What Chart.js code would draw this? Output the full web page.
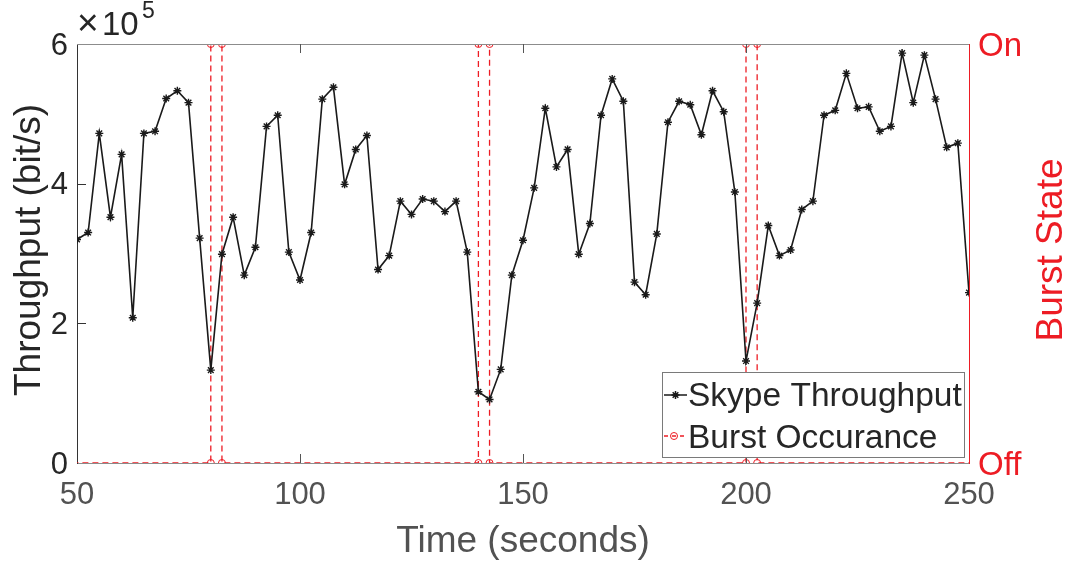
<!DOCTYPE html>
<html><head><meta charset="utf-8">
<script src="https://cdn.jsdelivr.net/npm/chart.js@4.4.1/dist/chart.umd.min.js"></script>
<style>html,body{margin:0;padding:0;background:#fff}#wrap{width:1076px;height:563px;position:relative}</style>
</head><body><div id="wrap"><canvas id="c"></canvas></div>
<script>
// ---- data ----
const times = [50,52.5,55,57.5,60,62.5,65,67.5,70,72.5,75,77.5,80,82.5,85,87.5,90,92.5,95,97.5,
  100,102.5,105,107.5,110,112.5,115,117.5,120,122.5,125,127.5,130,132.5,135,137.5,140,142.5,145,147.5,
  150,152.5,155,157.5,160,162.5,165,167.5,170,172.5,175,177.5,180,182.5,185,187.5,190,192.5,195,197.5,
  200,202.5,205,207.5,210,212.5,215,217.5,220,222.5,225,227.5,230,232.5,235,237.5,240,242.5,245,247.5,250];
const throughput = [320000,330000,472000,352000,442000,208000,472000,475000,522000,533000,516000,322000,133000,299000,352000,269000,309000,482000,498000,302000,
  262000,330000,521000,538000,399000,449000,469000,277000,297000,375000,356000,378000,375000,360000,375000,302000,102000,91000,134000,269000,
  319000,394000,508000,424000,449000,299000,343000,498000,550000,518000,259000,241000,328000,488000,518000,513000,470000,533000,503000,388000,
  146000,229000,340000,297000,305000,363000,375000,498000,505000,558000,508000,510000,475000,482000,587000,516000,584000,521000,452000,458000,244000];
const burstTimes  = [40,80,80,82.5,82.5,140,140,142.5,142.5,200,200,202.5,202.5,260];
const burstStates = [0,0,1,1,0,0,1,1,0,0,1,1,0,0];
const burstTickLabels = ['Off','On'];
const seriesNames = ['Skype Throughput','Burst Occurance'];
const axisTitles = {x:'Time (seconds)', y:'Throughput (bit/s)', y1:'Burst State'};
const yExponentLabel = ['\u00d7','10','5'];

// ---- styles ----
const FONT = '"Liberation Sans", Arial, Helvetica, sans-serif';
const RED = 'rgb(237,28,36)';
const INK = '#262626';
const GRAY = '#525252';

const throughputData = times.map((t,i)=>({x:t,y:throughput[i]}));
const burstData = burstTimes.map((t,i)=>({x:t,y:burstStates[i]}));

const decor = {
  id:'decor',
  afterDraw(chart){
    const {ctx, chartArea:a, scales} = chart;
    const sx = scales.x, sy = scales.y;
    ctx.save();
    // top border
    ctx.strokeStyle = '#8c8c8c'; ctx.lineWidth = 1;
    ctx.beginPath(); ctx.moveTo(a.left, a.top+0.5); ctx.lineTo(a.right, a.top+0.5); ctx.stroke();
    // inward ticks
    const TL = 9;
    ctx.strokeStyle = '#555'; ctx.lineWidth = 1;
    sx.ticks.forEach(t=>{
      const p = Math.round(sx.getPixelForValue(t.value))+0.5;
      if (p <= a.left+1 || p >= a.right-1) return;
      ctx.beginPath();
      ctx.moveTo(p, a.bottom); ctx.lineTo(p, a.bottom-TL);
      ctx.moveTo(p, a.top); ctx.lineTo(p, a.top+TL);
      ctx.stroke();
    });
    ctx.strokeStyle = '#333';
    sy.ticks.forEach(t=>{
      const p = Math.round(sy.getPixelForValue(t.value))+0.5;
      if (p <= a.top+1 || p >= a.bottom-1) return;
      ctx.beginPath(); ctx.moveTo(a.left, p); ctx.lineTo(a.left+TL, p); ctx.stroke();
    });
    // exponent label
    ctx.fillStyle = INK; ctx.textBaseline = 'alphabetic'; ctx.textAlign = 'left';
    ctx.font = '37px ' + FONT;
    ctx.fillText(yExponentLabel[0], 77, 35);
    ctx.font = '33px ' + FONT;
    ctx.fillText(yExponentLabel[1], 102, 35);
    ctx.font = '23px ' + FONT;
    ctx.fillText(yExponentLabel[2], 142, 18);
    // axis titles
    ctx.font = '37px ' + FONT;
    ctx.textAlign = 'center';
    ctx.fillStyle = GRAY;
    ctx.fillText(axisTitles.x, (a.left+a.right)/2, 552);
    ctx.fillStyle = INK;
    ctx.save(); ctx.translate(40, 250); ctx.rotate(-Math.PI/2); ctx.fillText(axisTitles.y, 0, 0); ctx.restore();
    ctx.fillStyle = RED;
    ctx.save(); ctx.translate(1062, 250); ctx.rotate(-Math.PI/2); ctx.fillText(axisTitles.y1, 0, 0); ctx.restore();
    // legend
    const L = {x:662, y:372, w:302, h:85};
    ctx.fillStyle = '#fff'; ctx.fillRect(L.x, L.y, L.w, L.h);
    ctx.strokeStyle = '#7a7a7a'; ctx.lineWidth = 1;
    ctx.strokeRect(L.x+0.5, L.y+0.5, L.w, L.h);
    const rows = [395, 436];
    // row 1
    ctx.strokeStyle = '#1a1a1a'; ctx.lineWidth = 1.5; ctx.setLineDash([]);
    ctx.beginPath(); ctx.moveTo(664, rows[0]); ctx.lineTo(687, rows[0]); ctx.stroke();
    Chart.helpers.drawPoint(ctx, {pointStyle:'star', radius:4, rotation:0, borderWidth:1.2}, 675.5, rows[0]);
    // row 2
    ctx.strokeStyle = RED; ctx.lineWidth = 1.3; ctx.setLineDash([4,4]);
    ctx.beginPath(); ctx.moveTo(664, rows[1]); ctx.lineTo(687, rows[1]); ctx.stroke();
    ctx.setLineDash([]); ctx.lineWidth = 1;
    ctx.fillStyle = 'rgba(0,0,0,0)';
    Chart.helpers.drawPoint(ctx, {pointStyle:'circle', radius:3.5, rotation:0, borderWidth:1}, 674, rows[1]);
    ctx.fillStyle = INK; ctx.textAlign = 'left'; ctx.font = '33.5px ' + FONT;
    ctx.fillText(seriesNames[0], 688, 406);
    ctx.fillText(seriesNames[1], 688, 448);
    ctx.restore();
  }
};

new Chart(document.getElementById('c'), {
  type:'line',
  data:{datasets:[
    {label:seriesNames[0], data:throughputData, yAxisID:'y', borderColor:'#1a1a1a', borderWidth:1.6,
     pointStyle:'star', pointRadius:4, pointBorderColor:'#1a1a1a', pointBorderWidth:1.4, tension:0, fill:false},
    {label:seriesNames[1], data:burstData, yAxisID:'y1', borderColor:RED, borderWidth:1.3, borderDash:[6,4],
     pointStyle:'circle', pointRadius:3.5, pointBackgroundColor:'rgba(0,0,0,0)', pointBorderColor:RED, pointBorderWidth:1, tension:0, fill:false}
  ]},
  options:{
    responsive:true, maintainAspectRatio:false, animation:false, events:[],
    layout:{padding:{top:44,left:0,right:0,bottom:0}},
    plugins:{legend:{display:false}, tooltip:{enabled:false}},
    scales:{
      x:{type:'linear', min:50, max:250, afterFit(s){s.height=100;},
         ticks:{stepSize:50, color:GRAY, padding:14, font:{family:FONT, size:31, lineHeight:1.2}, maxRotation:0},
         grid:{display:false, drawTicks:false}, border:{display:true, color:'#8c8c8c', width:1}},
      y:{type:'linear', position:'left', min:0, max:600000, afterFit(s){s.width=77;},
         ticks:{stepSize:200000, color:INK, padding:9, labelOffset:2, font:{family:FONT, size:31, lineHeight:1.2}, callback:v=>String(v/100000)},
         grid:{display:false, drawTicks:false}, border:{display:true, color:'#333', width:1}},
      y1:{type:'linear', position:'right', min:0, max:1, afterFit(s){s.width=107;},
         ticks:{stepSize:1, color:RED, padding:9, labelOffset:3, font:{family:FONT, size:33, lineHeight:1.2}, callback:v=>burstTickLabels[v]},
         grid:{display:false, drawTicks:false}, border:{display:true, color:RED, width:1}}
    }
  },
  plugins:[decor]
});
</script></body></html>
